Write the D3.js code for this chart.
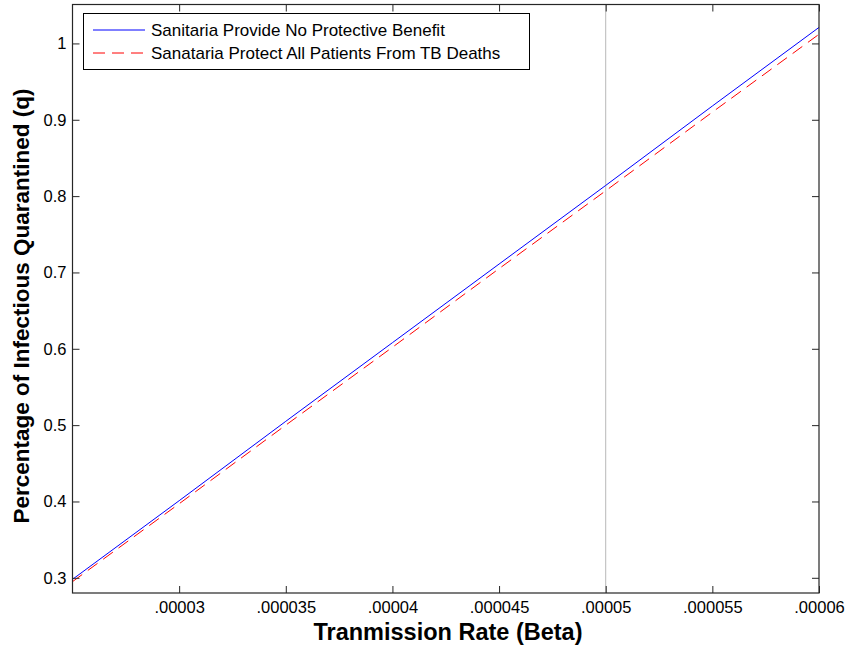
<!DOCTYPE html>
<html>
<head>
<meta charset="utf-8">
<script src="https://cdn.jsdelivr.net/npm/d3@7"></script>
<style>
  body { margin: 0; background: #fff; }
  svg { font-family: "Liberation Sans", Arial, sans-serif; }
</style>
</head>
<body>
<script>
// beta values (one every .000005)
const beta = [0.000025, 0.00003, 0.000035, 0.00004, 0.000045, 0.00005, 0.000055, 0.00006];
// q when sanitaria give no protective benefit
const qNoBenefit = [0.298, 0.401, 0.505, 0.608, 0.711, 0.814, 0.918, 1.021];
// q when sanitaria protect all patients from TB deaths
const qProtect = [0.295, 0.397, 0.500, 0.602, 0.705, 0.807, 0.910, 1.012];

const xTicks = [0.00003, 0.000035, 0.00004, 0.000045, 0.00005, 0.000055, 0.00006];
const xTickLabels = [".00003", ".000035", ".00004", ".000045", ".00005", ".000055", ".00006"];
const yTicks = [0.3, 0.4, 0.5, 0.6, 0.7, 0.8, 0.9, 1];
const yTickLabels = ["0.3", "0.4", "0.5", "0.6", "0.7", "0.8", "0.9", "1"];
const markerBeta = 0.00005;

const seriesNames = ["Sanitaria Provide No Protective Benefit", "Sanataria Protect All Patients From TB Deaths"];

const W = 846, H = 646;
const pLeft = 72.5, pRight = 819, pTop = 4.5, pBottom = 593;

const svg = d3.select("body").append("svg")
  .attr("width", W)
  .attr("height", H);

const x = d3.scaleLinear().domain([0.000025, 0.00006]).range([pLeft, pRight]);
const y = d3.scaleLinear().domain([0.2801, 1.051]).range([pBottom, pTop]);

// vertical reference line
svg.append("line")
  .attr("x1", x(markerBeta)).attr("x2", x(markerBeta))
  .attr("y1", pTop).attr("y2", pBottom)
  .attr("stroke", "#b8b8b8")
  .attr("stroke-width", 1);

const line = d3.line()
  .x((d, i) => x(beta[i]))
  .y(d => y(d));

svg.append("path")
  .datum(qProtect)
  .attr("d", line)
  .attr("fill", "none")
  .attr("stroke", "#ff0000")
  .attr("stroke-width", 1)
  .attr("stroke-dasharray", "12,7");

svg.append("path")
  .datum(qNoBenefit)
  .attr("d", line)
  .attr("fill", "none")
  .attr("stroke", "#0000ff")
  .attr("stroke-width", 1);

// axes, matlab style: ticks inside, mirrored on top and right
const tickLen = 7;
const xAxis = d3.axisBottom(x).tickValues(xTicks)
  .tickFormat((d, i) => xTickLabels[i])
  .tickSizeInner(-tickLen).tickSizeOuter(0).tickPadding(8);
const yAxis = d3.axisLeft(y).tickValues(yTicks)
  .tickFormat((d, i) => yTickLabels[i])
  .tickSizeInner(-tickLen).tickSizeOuter(0).tickPadding(6);

const gx = svg.append("g").attr("transform", `translate(0,${pBottom})`).call(xAxis);
const gy = svg.append("g").attr("transform", `translate(${pLeft},0)`).call(yAxis);
const gxTop = svg.append("g").attr("transform", `translate(0,${pTop})`)
  .call(d3.axisTop(x).tickValues(xTicks).tickFormat("").tickSizeInner(-tickLen).tickSizeOuter(0));
const gyRight = svg.append("g").attr("transform", `translate(${pRight},0)`)
  .call(d3.axisRight(y).tickValues(yTicks).tickFormat("").tickSizeInner(-tickLen).tickSizeOuter(0));

[gx, gy, gxTop, gyRight].forEach(g => {
  g.select(".domain").remove();
  g.selectAll(".tick line").attr("stroke", "#262626");
  g.selectAll(".tick text")
    .attr("fill", "#000")
    .style("font-size", "16.5px")
    .style("font-family", "'Liberation Sans', Arial, sans-serif");
});

// box
svg.append("rect")
  .attr("x", pLeft).attr("y", pTop)
  .attr("width", pRight - pLeft).attr("height", pBottom - pTop)
  .attr("fill", "none")
  .attr("stroke", "#262626")
  .attr("stroke-width", 1.2);

// axis titles
svg.append("text")
  .attr("x", 448)
  .attr("y", 640)
  .attr("text-anchor", "middle")
  .style("font-size", "23.5px")
  .style("font-weight", "bold")
  .text("Tranmission Rate (Beta)");

svg.append("text")
  .attr("transform", "translate(29,306) rotate(-90)")
  .attr("text-anchor", "middle")
  .style("font-size", "22.5px")
  .style("font-weight", "bold")
  .text("Percentage of Infectious Quarantined (q)");

// legend
const lg = svg.append("g");
lg.append("rect")
  .attr("x", 83.5).attr("y", 13.5)
  .attr("width", 446).attr("height", 56)
  .attr("fill", "#fff")
  .attr("stroke", "#000")
  .attr("stroke-width", 1);

const legendStyles = [
  { color: "#0000ff", dash: "none" },
  { color: "#ff0000", dash: "12,7" }
];
seriesNames.forEach((name, i) => {
  const ly = 30 + i * 23;
  lg.append("line")
    .attr("x1", 93).attr("x2", 145)
    .attr("y1", ly).attr("y2", ly)
    .attr("stroke", legendStyles[i].color)
    .attr("stroke-width", 1)
    .attr("stroke-dasharray", legendStyles[i].dash);
  lg.append("text")
    .attr("x", 151).attr("y", ly + 6)
    .style("font-size", "17px")
    .text(name);
});
</script>
</body>
</html>
